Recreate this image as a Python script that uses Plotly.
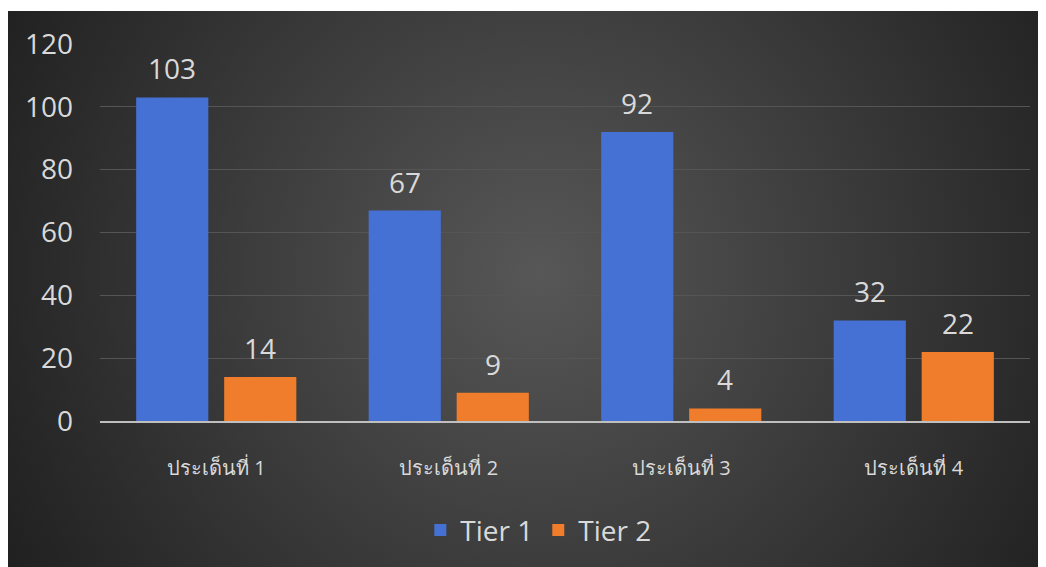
import base64
import plotly.graph_objects as go

categories = ['ประเด็นที่ 1', 'ประเด็นที่ 2', 'ประเด็นที่ 3', 'ประเด็นที่ 4']
tier1 = [103, 67, 92, 32]
tier2 = [14, 9, 4, 22]

# the page body adds an 8px offset, so the figure is laid out 8px up/left
W, H = 1046, 567
ML, MR, MT, MB = 92, 24, 36, 154

# dark radial background with the thin white strip on top
svg = f'''<svg xmlns="http://www.w3.org/2000/svg" width="{W}" height="{H}">
<defs><radialGradient id="g" gradientUnits="userSpaceOnUse" cx="532" cy="265" r="620">
<stop offset="0" stop-color="#575757"/><stop offset="1" stop-color="#1f1f1f"/></radialGradient></defs>
<rect width="{W}" height="{H}" fill="#ffffff"/>
<rect x="0" y="3" width="{W}" height="{H - 3}" fill="url(#g)"/>
</svg>'''
bg_src = 'data:image/svg+xml;base64,' + base64.b64encode(svg.encode()).decode()

pw, ph = W - ML - MR, H - MT - MB
font = 'Open Sans, Noto Sans, DejaVu Sans, sans-serif'
txt = '#d9d9d9'

fig = go.Figure()
fig.add_trace(go.Bar(x=categories, y=tier1, name='Tier 1', marker_color='#4571d4',
                     marker_line_width=0))
fig.add_trace(go.Bar(x=categories, y=tier2, name='Tier 2', marker_color='#f07d2c',
                     marker_line_width=0))

# value labels sit well above the bars, like the original
for vals, dx in ((tier1, -44), (tier2, 44)):
    for c, v in zip(categories, vals):
        fig.add_annotation(x=c, y=v, text=str(v), showarrow=False, xshift=dx,
                           yshift=29, font=dict(size=28, color=txt))

fig.update_layout(
    width=W, height=H,
    margin=dict(l=ML, r=MR, t=MT, b=MB),
    paper_bgcolor='white',
    plot_bgcolor='rgba(0,0,0,0)',
    font=dict(family=font, color=txt),
    barmode='group', bargap=0.243, bargroupgap=0.18,
    images=[dict(source=bg_src, xref='paper', yref='paper',
                 x=-ML / pw, y=1 + MT / ph, sizex=W / pw, sizey=H / ph,
                 xanchor='left', yanchor='top', sizing='stretch', layer='below')],
    legend=dict(orientation='h', x=0.507, xref='container', xanchor='center',
                y=0.079, yref='container', yanchor='middle',
                bgcolor='rgba(0,0,0,0)', font=dict(size=28, color=txt), itemwidth=30),
    showlegend=True,
)
fig.update_yaxes(range=[0, 120], dtick=20, showgrid=True, gridcolor='#555555',
                 gridwidth=1, zeroline=False, showline=False,
                 tickfont=dict(size=28, color=txt), ticklabelstandoff=26)
fig.update_xaxes(showline=True, linecolor='#bfbfbf', linewidth=2,
                 tickfont=dict(size=20, color=txt), ticklabelstandoff=28)

fig.write_html('out.html')
